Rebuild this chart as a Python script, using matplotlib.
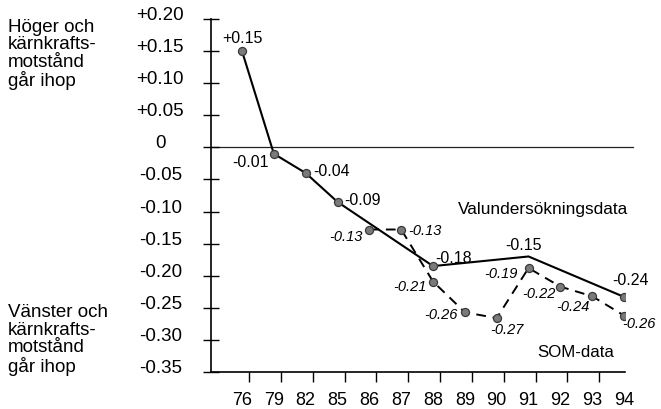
import matplotlib
matplotlib.use("Agg")
import matplotlib.pyplot as plt
import numpy as np

plt.rcParams['font.family'] = ['Liberation Sans', 'DejaVu Sans']

# ---- data ----
years = ["76", "79", "82", "85", "86", "87", "88", "89", "90", "91", "92", "93", "94"]

valu_years = ["76", "79", "82", "85", "88", "91", "94"]
valu_values = [0.15, -0.01, -0.04, -0.085, -0.185, -0.17, -0.233]
valu_labels = ["+0.15", "-0.01", "-0.04", "-0.09", "-0.18", "-0.15", "-0.24"]
valu_marker = [True, True, True, True, True, False, True]

som_years = ["86", "87", "88", "89", "90", "91", "92", "93", "94"]
som_values = [-0.128, -0.128, -0.209, -0.257, -0.266, -0.188, -0.217, -0.232, -0.262]
som_labels = ["-0.13", "-0.13", "-0.21", "-0.26", "-0.27", "-0.19", "-0.22", "-0.24", "-0.26"]

yticks = [0.20, 0.15, 0.10, 0.05, 0.0, -0.05, -0.10, -0.15, -0.20, -0.25, -0.30, -0.35]
ytick_labels = ["+0.20", "+0.15", "+0.10", "+0.05", "0", "-0.05", "-0.10", "-0.15",
                "-0.20", "-0.25", "-0.30", "-0.35"]

# ---- layout (pixel offsets of labels: dx, dy (down positive), ha) ----
valu_offsets = [(0, -14, 'center'), (-5, 8, 'right'), (8, -3, 'left'), (7, -2, 'left'),
                (2, -9, 'left'), (-5, -12, 'center'), (6, -17, 'center')]
som_offsets = [(-7, 6, 'right'), (7, 0, 'left'), (-6, 4, 'right'), (-7, 2, 'right'),
               (10, 11, 'center'), (-11, 5, 'right'), (-5, 6, 'right'), (-3, 10, 'right'),
               (-2, 7, 'left')]

W, H = 661, 410
fig = plt.figure(figsize=(W / 100, H / 100), dpi=100)
ax = fig.add_axes([211 / W, 1 - 373 / H, (625 - 211) / W, (373 - 20) / H])

xpos = {y: i for i, y in enumerate(years)}
vx = [xpos[y] for y in valu_years]
sx = [xpos[y] for y in som_years]

ax.set_xlim(-0.974, 12.03)
ax.set_ylim(-0.35, 0.20)

# zero line
ax.axhline(0, xmin=0, xmax=1.02, color='#222222', lw=0.9, clip_on=False, zorder=1)

# SOM dashed
ax.plot(sx, som_values, color='black', lw=1.4, dashes=(5, 3.5), zorder=2)
ax.plot(sx, som_values, linestyle='none', marker='o', ms=5.8,
        mfc='#7a7a7a', mec='#3a3a3a', mew=0.9, zorder=4)

# Valundersökning solid
ax.plot(vx, valu_values, color='black', lw=1.5, zorder=3)
mx = [x for x, m in zip(vx, valu_marker) if m]
my = [v for v, m in zip(valu_values, valu_marker) if m]
ax.plot(mx, my, linestyle='none', marker='o', ms=5.8,
        mfc='#7a7a7a', mec='#3a3a3a', mew=0.9, zorder=4)

for x, v, lab, (dx, dy, ha) in zip(vx, valu_values, valu_labels, valu_offsets):
    ax.annotate(lab, (x, v), xytext=(dx, -dy), textcoords='offset pixels',
                ha=ha, va='center', fontsize=11.5, color='black')
for x, v, lab, (dx, dy, ha) in zip(sx, som_values, som_labels, som_offsets):
    ax.annotate(lab, (x, v), xytext=(dx, -dy), textcoords='offset pixels',
                ha=ha, va='center', fontsize=10.5, style='italic', color='black')

# series names
fig.text(458 / W, 1 - 210 / H, "Valundersökningsdata", fontsize=12.4,
         ha='left', va='center')
fig.text(537 / W, 1 - 353 / H, "SOM-data", fontsize=12.2, ha='left', va='center')

# left annotations
fig.text(8 / W, 1 - 19 / H, "Höger och\nkärnkrafts-\nmotstånd\ngår ihop",
         fontsize=13.5, ha='left', va='top', linespacing=1.02)
fig.text(8 / W, 1 - 304 / H, "Vänster och\nkärnkrafts-\nmotstånd\ngår ihop",
         fontsize=13.5, ha='left', va='top', linespacing=1.05)

# spines
for s in ['top', 'right']:
    ax.spines[s].set_visible(False)
for s in ['left', 'bottom']:
    ax.spines[s].set_linewidth(1.2)
    ax.spines[s].set_color('black')

# y ticks
ax.set_yticks(yticks)
ax.set_yticklabels(ytick_labels)
ax.tick_params(axis='y', direction='inout', length=11, width=1.0, pad=31,
               labelsize=13.5)
for lab in ax.get_yticklabels():
    lab.set_horizontalalignment('center')
    lab.set_verticalalignment('baseline')

# x ticks: labels at points, tick marks slightly offset
ax.set_xticks(range(len(years)))
ax.set_xticklabels(years)
ax.tick_params(axis='x', which='major', length=0, pad=14, labelsize=13)
minor = [i + 0.22 for i in range(len(years) - 1)] + [len(years) - 1]
ax.set_xticks(minor, minor=True)
ax.tick_params(axis='x', which='minor', direction='out', length=7, width=1.0)

fig.savefig("out.png", dpi=100)
